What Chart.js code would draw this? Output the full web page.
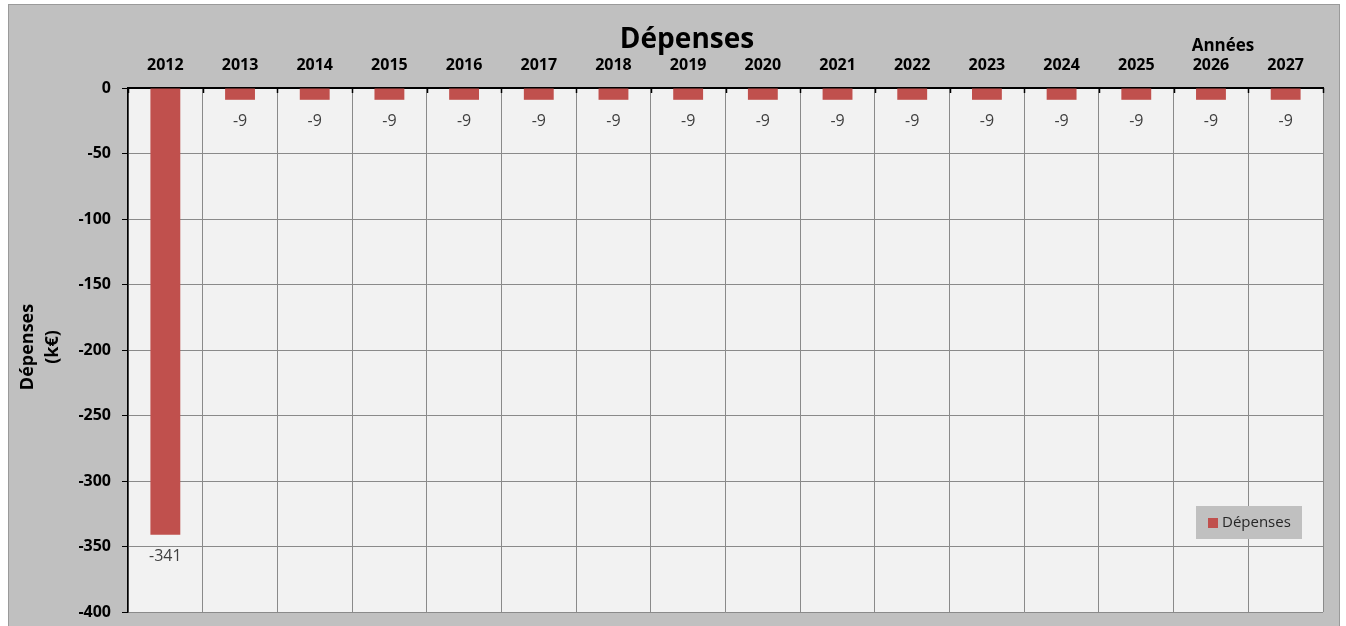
<!DOCTYPE html>
<html>
<head>
<meta charset="utf-8">
<script src="https://cdn.jsdelivr.net/npm/chart.js@4.4.1/dist/chart.umd.min.js"></script>
<style>
  html, body { margin: 0; padding: 0; background: #ffffff; }
  canvas { display: block; }
</style>
</head>
<body>
<canvas id="c" width="1346" height="626"></canvas>
<script>
const categories = ['2012','2013','2014','2015','2016','2017','2018','2019','2020','2021','2022','2023','2024','2025','2026','2027'];
const depenses = [-341,-9,-9,-9,-9,-9,-9,-9,-9,-9,-9,-9,-9,-9,-9,-9];
const seriesName = 'Dépenses';
const chartTitle = 'Dépenses';
const xAxisTitle = 'Années';
const yAxisTitle = ['Dépenses', '(k€)'];
const yMin = -400, yMax = 0, yStep = 50;

const FONT = '"Open Sans", "DejaVu Sans", sans-serif';
const BAR = '#c0504d';

const decorPlugin = {
  id: 'decor',
  beforeDraw(chart) {
    const ctx = chart.ctx;
    const ca = chart.chartArea;
    ctx.save();
    ctx.fillStyle = '#ffffff';
    ctx.fillRect(0, 0, chart.width, chart.height);
    ctx.fillStyle = '#c0c0c0';
    ctx.fillRect(8, 4, 1332, 640);
    ctx.strokeStyle = '#9a9a9a';
    ctx.lineWidth = 1;
    ctx.strokeRect(8.5, 4.5, 1331, 640);
    ctx.fillStyle = '#f2f2f2';
    ctx.fillRect(ca.left, ca.top, ca.right - ca.left, ca.bottom - ca.top);
    ctx.restore();
  },
  afterDraw(chart) {
    const ctx = chart.ctx;
    const ca = chart.chartArea;
    ctx.save();
    // inward tick marks on the top axis at category boundaries
    ctx.strokeStyle = '#000000';
    ctx.lineWidth = 1.5;
    const n = categories.length;
    const w = (ca.right - ca.left) / n;
    for (let i = 0; i <= n; i++) {
      const x = Math.round(ca.left + i * w) + 0.5;
      ctx.beginPath();
      ctx.moveTo(x, ca.top);
      ctx.lineTo(x, ca.top + 5);
      ctx.stroke();
    }
    // titles
    ctx.fillStyle = '#000000';
    ctx.textAlign = 'center';
    ctx.textBaseline = 'middle';
    ctx.font = 'bold 28px ' + FONT;
    ctx.fillText(chartTitle, 687, 40);
    ctx.font = 'bold 17px ' + FONT;
    ctx.fillText(xAxisTitle, 1223, 46);
    // y axis title (rotated)
    ctx.font = 'bold 18px ' + FONT;
    ctx.save();
    ctx.translate(28, 347);
    ctx.rotate(-Math.PI / 2);
    ctx.fillText(yAxisTitle[0], 0, 0);
    ctx.restore();
    ctx.save();
    ctx.translate(53, 347);
    ctx.rotate(-Math.PI / 2);
    ctx.fillText(yAxisTitle[1], 0, 0);
    ctx.restore();
    // data labels
    const meta = chart.getDatasetMeta(0);
    ctx.font = '16px ' + FONT;
    ctx.fillStyle = '#404040';
    ctx.textAlign = 'center';
    ctx.textBaseline = 'middle';
    meta.data.forEach((bar, i) => {
      const v = chart.data.datasets[0].data[i];
      ctx.fillText(String(v), bar.x, bar.y + 22);
    });
    // legend
    const lx = 1196, ly = 506, lw = 106, lh = 33;
    ctx.fillStyle = '#c0c0c0';
    ctx.fillRect(lx, ly, lw, lh);
    ctx.fillStyle = BAR;
    ctx.fillRect(lx + 12, ly + 12, 10, 10);
    ctx.fillStyle = '#262626';
    ctx.textAlign = 'left';
    ctx.font = '15px ' + FONT;
    ctx.fillText(chart.data.datasets[0].label, lx + 26, ly + 17);
    ctx.restore();
  }
};

new Chart(document.getElementById('c'), {
  type: 'bar',
  data: {
    labels: categories,
    datasets: [{
      label: seriesName,
      data: depenses,
      backgroundColor: BAR,
      borderWidth: 0,
      categoryPercentage: 1.0,
      barPercentage: 0.4
    }]
  },
  options: {
    responsive: false,
    animation: false,
    devicePixelRatio: 1,
    layout: { padding: { left: 0, right: 23, top: 0, bottom: 14 } },
    plugins: {
      legend: { display: false },
      title: { display: false },
      tooltip: { enabled: false }
    },
    scales: {
      x: {
        position: 'top',
        offset: true,
        grid: {
          offset: true,
          color: '#8a8a8a',
          lineWidth: 1,
          drawTicks: false
        },
        border: { display: true, color: '#000000', width: 2 },
        ticks: {
          color: '#000000',
          font: { family: FONT, size: 16, weight: 'bold' },
          padding: 13,
          maxRotation: 0,
          autoSkip: false
        },
        afterFit(scale) {
          scale.height = 88;
          scale.paddingLeft = 0; scale.paddingRight = 0;
        }
      },
      y: {
        min: yMin,
        max: yMax,
        grid: {
          color: '#8a8a8a',
          lineWidth: 1,
          tickColor: '#000000',
          tickLength: 6
        },
        border: { display: true, color: '#000000', width: 1.5 },
        ticks: {
          stepSize: yStep,
          color: '#000000',
          font: { family: FONT, size: 16, weight: 'bold' },
          padding: 11
        },
        afterFit(scale) {
          scale.width = 128;
          scale.paddingTop = 0; scale.paddingBottom = 0;
        }
      }
    }
  },
  plugins: [decorPlugin]
});
</script>
</body>
</html>
